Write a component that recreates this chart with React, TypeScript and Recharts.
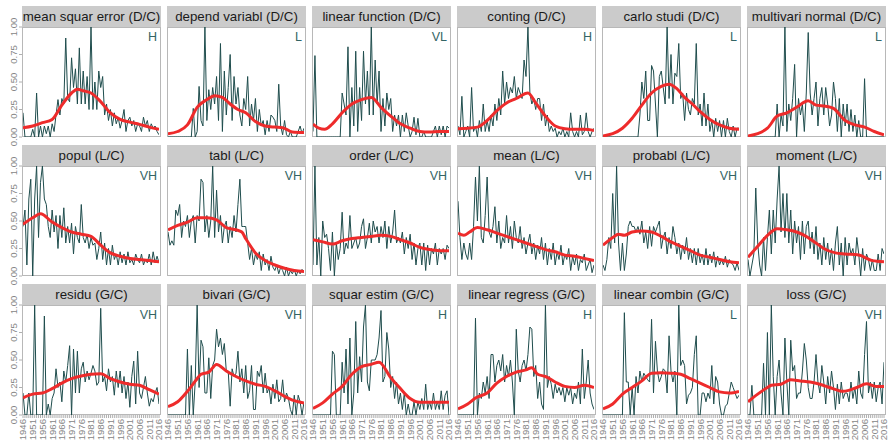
import React from 'react';
import { LineChart, Line, XAxis, YAxis } from 'recharts';

const years = Array.from({ length: 71 }, (_, i) => 1946 + i);
const xTicks = [1946, 1951, 1956, 1961, 1966, 1971, 1976, 1981, 1986, 1991, 1996, 2001, 2006, 2011, 2016];
const yTicks = [0, 0.25, 0.5, 0.75, 1];

const titles = [
  'mean squar error (D/C)', 'depend variabl (D/C)', 'linear function (D/C)', 'conting (D/C)', 'carlo studi (D/C)', 'multivari normal (D/C)',
  'popul (L/C)', 'tabl (L/C)', 'order (L/C)', 'mean (L/C)', 'probabl (L/C)', 'moment (L/C)',
  'residu (G/C)', 'bivari (G/C)', 'squar estim (G/C)', 'linear regress (G/C)', 'linear combin (G/C)', 'loss (G/C)',
];
const tags = ['H', 'L', 'VL', 'H', 'L', 'L', 'VH', 'VH', 'VH', 'VH', 'VH', 'VH', 'VH', 'VH', 'H', 'H', 'L', 'VH'];

// yearly shares, 1946..2016
const meanSquarError = [
  0.22, 0, 0, 0, 0, 0.07, 0, 0.40, 0, 0.10,
  0, 0.10, 0.03, 0.10, 0, 0.12, 0.05, 0.20, 0.34, 0.20,
  0.35, 0.30, 0.90, 0.35, 0.32, 0.72, 0.45, 0.62, 0.30, 0.81,
  0.30, 0.60, 0.30, 0.55, 0.25, 1.00, 0.25, 0.50, 0.25, 0.60,
  0.45, 0.55, 0.20, 0.30, 0.15, 0.25, 0.10, 0.22, 0.12, 0.18,
  0.08, 0.15, 0.25, 0.05, 0.15, 0.18, 0.10, 0.15, 0.05, 0.12,
  0.10, 0.05, 0.18, 0.10, 0.15, 0.05, 0.12, 0.08, 0.10, 0.05,
  0.02,
];
const dependVariabl = [
  0, 0, 0, 0, 0, 0, 0, 0, 0, 0,
  0, 0, 0, 0.26, 0, 0.05, 0.46, 0.15, 0.10, 1.00,
  0.15, 0.43, 0.25, 0.45, 0.30, 0.55, 0.15, 0.85, 0.05, 0.60,
  0.20, 0.45, 0.75, 0.15, 0.55, 0.30, 0.45, 0.20, 0.10, 0.35,
  0.25, 0.55, 0.10, 0.30, 0.15, 0.35, 0.05, 0.25, 0.10, 0.15,
  0.02, 0.15, 0.05, 0.20, 0.18, 0.15, 0.05, 0.48, 0.10, 0.02,
  0.15, 0.02, 0, 0.05, 0, 0, 0, 0.05, 0.10, 0.03,
  0.08,
];
const linearFunction = [
  0.05, 0.74, 0, 0, 0, 0, 0, 0, 0, 0,
  0, 0, 0, 0, 0, 0.40, 0.30, 0.20, 0.82, 0,
  0.45, 0.10, 0.78, 0.05, 0.45, 0.15, 0.78, 0.30, 0.60, 0.20,
  1.00, 0.20, 0.70, 0.30, 0.60, 0.05, 0.35, 0.10, 0.40, 0.25,
  0.35, 0.05, 0.20, 0.10, 0.20, 0, 0.20, 0.05, 0.22, 0.10,
  0, 0.05, 0.18, 0.02, 0.17, 0, 0, 0.05, 0, 0,
  0, 0, 0.05, 0.10, 0, 0.10, 0.02, 0.10, 0, 0.10,
  0.08,
];
const conting = [
  0.10, 0.02, 0.37, 0, 0.05, 0.10, 0, 0.45, 0.05, 0.10,
  0, 0.15, 0.05, 0.30, 0.05, 0.15, 0.05, 0.20, 0.10, 0.30,
  0.15, 0.35, 0.20, 0.60, 0.30, 0.50, 0.35, 0.45, 0.40, 0.55,
  0.35, 0.45, 0.40, 0.35, 0.70, 0.55, 1.00, 0.40, 0.30, 0.35,
  0.25, 0.35, 0.35, 0.15, 0.30, 0.10, 0.20, 0.05, 0.10, 0.05,
  0.08, 0, 0.05, 0.02, 0.08, 0, 0.05, 0, 0.22, 0.05,
  0, 0.05, 0, 0.20, 0.02, 0.05, 0.22, 0.05, 0, 0.05,
  0.08,
];
const carloStudi = [
  0, 0, 0, 0, 0, 0, 0, 0, 0, 0,
  0, 0, 0, 0, 0, 0, 0, 0, 0, 0.20,
  0.50, 0.35, 0.60, 0.15, 0.15, 0.65, 0.60, 0.30, 0, 0.55,
  0.60, 0.45, 0.30, 1.00, 0.35, 0.75, 0.30, 0.58, 0.55, 0.85,
  0.35, 0.40, 0.15, 0.40, 0.25, 0.20, 0.35, 0.30, 0.85, 0.20,
  0.30, 0.10, 0.40, 0.10, 0.30, 0.05, 0.15, 0, 0.17, 0.05,
  0.15, 0, 0.15, 0, 0.17, 0.05, 0, 0.10, 0, 0.08,
  0.08,
];
const multivariNormal = [
  0, 0, 0, 0, 0, 0, 0, 0, 0, 0,
  0, 0, 0, 0, 0, 0.30, 0, 0.20, 0.10, 1.00,
  0.05, 0.30, 0.15, 0.35, 0.66, 0, 0.35, 0.20, 0.30, 0.05,
  0.40, 0.95, 0.40, 0.20, 0.35, 0.50, 0.10, 0.35, 0.45, 0.20,
  0.45, 0.30, 0.10, 0.20, 0.50, 0.35, 0.05, 0.35, 0, 0.30,
  0.10, 0.30, 0.05, 0.25, 0.05, 0.20, 0, 0.15, 0, 0,
  0.53, 0, 0, 0, 0, 0, 0, 0, 0, 0,
  0,
];
const popul = [
  0.45, 0.60, 0.10, 0.70, 0.88, 0, 0.70, 1.00, 0.35, 0.85,
  1.00, 0.70, 0.65, 0.45, 0.35, 0.60, 0.40, 0.55, 0.25, 0.55,
  0.35, 0.62, 0.30, 0.45, 0.30, 0.48, 0.20, 0.45, 0.35, 0.30,
  0.65, 0.35, 0.30, 0.38, 0.25, 0.35, 0.28, 0.30, 0.15, 0.25,
  0.40, 0.15, 0.30, 0.10, 0.25, 0.10, 0.28, 0.15, 0.20, 0.10,
  0.22, 0.12, 0.20, 0.10, 0.22, 0.12, 0.15, 0.10, 0.20, 0.15,
  0.12, 0.20, 0.10, 0.15, 0.12, 0.20, 0.10, 0.22, 0.12, 0.18,
  0.12,
];
const tabl = [
  0.40, 0.28, 0.32, 0.28, 0.60, 0.55, 0.65, 0.35, 0.50, 0.45,
  0.55, 0.35, 0.50, 0.55, 0.30, 0.55, 0.50, 0.88, 0.85, 0.40,
  0.55, 0.35, 0.50, 1.00, 0.35, 0.78, 0.40, 0.55, 0.30, 0.45,
  0.50, 0.30, 0.45, 0.35, 0.55, 0.40, 0.65, 0.88, 0.45, 0.45,
  0.45, 0.30, 0.15, 0.25, 0.10, 0.20, 0.15, 0.22, 0.05, 0.20,
  0.10, 0.15, 0.05, 0.18, 0.08, 0.05, 0.10, 0.02, 0.08, 0.05,
  0, 0.08, 0, 0.05, 0.02, 0.06, 0, 0.05, 0.02, 0.06,
  0.03,
];
const order = [
  0.10, 1.00, 0.10, 0.35, 0, 0.50, 0.35, 0.38, 0.25, 0.05,
  0.40, 0, 0.30, 0.15, 0.25, 0.58, 0.20, 0.30, 0.25, 0.55,
  0.25, 0.30, 0.35, 0.25, 0.30, 0.45, 0.52, 0.25, 0.35, 0.48,
  0.30, 0.50, 0.40, 0.45, 0.30, 0.45, 0.35, 0.50, 0.25, 0.45,
  0.30, 0.40, 0.60, 0.30, 0.35, 0.30, 0.40, 0.20, 0.35, 0.25,
  0.38, 0.15, 0.30, 0.10, 0.25, 0.30, 0.10, 0.30, 0.05, 0.28,
  0.10, 0.25, 0.20, 0.30, 0.10, 0.25, 0.20, 0.25, 0.15, 0.28,
  0.25,
];
const mean = [
  0.68, 0.35, 0.15, 0.30, 0.20, 0.15, 0.30, 0.15, 0.45, 0.90,
  0.50, 1.00, 0.35, 0.30, 0.55, 0.90, 0.40, 0.35, 0.45, 0.63,
  0.30, 0.50, 0.25, 0.35, 0.30, 0.55, 0.30, 0.45, 0.25, 0.50,
  0.35, 0.30, 0.45, 0.25, 0.35, 0.20, 0.30, 0.38, 0.20, 0.30,
  0.15, 0.28, 0.20, 0.35, 0.15, 0.30, 0.10, 0.25, 0.15, 0.30,
  0.10, 0.22, 0.15, 0.28, 0.10, 0.20, 0.15, 0.25, 0.05, 0.18,
  0.10, 0.20, 0.05, 0.15, 0.12, 0.20, 0.05, 0.10, 0.15, 0.03,
  0.10,
];
const probabl = [
  0.10, 0.05, 0.15, 0.35, 0.25, 0.75, 0.30, 1.00, 0.30, 0.05,
  0.30, 0.05, 0.20, 0.45, 0.50, 0.45, 0.45, 0.40, 0.45, 0.38,
  0.50, 0.30, 0.40, 0.25, 0.45, 0.27, 0.45, 0.40, 0.45, 0.50,
  0.25, 0.35, 0.40, 0.20, 0.35, 0.25, 0.45, 0.35, 0.20, 0.30,
  0.15, 0.28, 0.20, 0.35, 0.15, 0.25, 0.12, 0.25, 0.10, 0.25,
  0.12, 0.20, 0.10, 0.25, 0.10, 0.20, 0.12, 0.22, 0.08, 0.18,
  0.10, 0.15, 0.10, 0.18, 0.08, 0.15, 0.12, 0.10, 0.05, 0.12,
  0.05,
];
const moment = [
  0.15, 0, 0.10, 0.20, 0.80, 0.30, 0.10, 0, 0.35, 0.05,
  0.35, 0.60, 0.20, 0.60, 0.30, 0.70, 1.00, 0.40, 0.75, 0.35,
  0.75, 0.30, 0.60, 0.20, 0.50, 0.30, 0.45, 0.15, 0.50, 0.20,
  0.45, 0.50, 0.25, 0.40, 0.20, 0.45, 0.15, 0.30, 0.10, 0.35,
  0.15, 0.30, 0.10, 0.25, 0.05, 0.30, 0.45, 0.10, 0.30, 0,
  0.35, 0.10, 0.30, 0.20, 0.25, 0.10, 0.35, 0.20, 0, 0.25,
  0.05, 0.20, 0.15, 0.05, 0.15, 0.05, 0.05, 0.20, 0.05, 0.25,
  0.20,
];
const residu = [
  0.20, 0, 0, 0.20, 0, 0, 1.00, 0, 0, 0,
  0, 0.90, 0, 0.10, 0, 0.15, 0.20, 0.42, 0.25, 0.30,
  0.12, 0.40, 0.30, 0.45, 0.63, 0, 0.60, 0.20, 0.58, 0.20,
  0.42, 0.48, 0.30, 0.40, 0.32, 0.38, 0.45, 0.40, 0.27, 0.30,
  0.97, 0.30, 0.35, 0.22, 0.42, 0.30, 0.35, 0.18, 0.40, 0.25,
  0.40, 0.20, 0.35, 0.15, 0.30, 0.07, 0.35, 0.49, 0.10, 0.58,
  0.20, 0.15, 0.25, 0.35, 0.20, 0.08, 0.15, 0.12, 0.20, 0.25,
  0.10,
];
const bivari = [
  0, 0, 0, 0, 0, 0, 0, 0, 0, 0,
  0.60, 0, 0.45, 0, 0.30, 1.00, 0.25, 0.68, 0.62, 0.20,
  0.20, 0.52, 0.15, 0.45, 0.50, 0.78, 0.62, 0.70, 0.55, 0.65,
  0.40, 0.40, 0.08, 0.42, 0.35, 0.38, 0.58, 0.30, 0.42, 0.20,
  0.45, 0.15, 0.22, 0.45, 0.05, 0.05, 0.40, 0.35, 0.45, 0.20,
  0.38, 0.20, 0.25, 0.10, 0.28, 0.15, 0.32, 0.12, 0.15, 0.32,
  0.12, 0.20, 0.15, 0.05, 0, 0.18, 0, 0.18, 0.12, 0,
  0.12,
];
const squarEstim = [
  0, 0, 0, 0, 0, 0, 0, 0, 0, 0,
  0.58, 0.55, 0, 0, 0, 0.48, 0.20, 0.60, 0.10, 0.70,
  0, 0.20, 0.85, 0.20, 0.53, 0.30, 0.80, 1.00, 0.30, 0.22,
  0.50, 0.50, 0.50, 0.55, 0.70, 0.95, 0.30, 0.35, 0.75, 0.60,
  0.25, 0.35, 0.15, 0.30, 0.10, 0.20, 0.05, 0.20, 0, 0.10,
  0, 0, 0.12, 0, 0.12, 0.05, 0.15, 0.05, 0.28, 0.05,
  0.12, 0.05, 0.20, 0.05, 0.12, 0.05, 0.22, 0.05, 0.18, 0.22,
  0,
];
const linearRegress = [
  0, 0, 0, 0, 0, 0, 0, 0, 0, 0.88,
  0, 0.20, 0.15, 0.30, 0.20, 0.35, 0.15, 0.55, 0.55, 0.30,
  0.45, 0.50, 0.40, 0.55, 0.30, 0.45, 0.35, 0.50, 0.30, 0,
  0.78, 0.40, 0.30, 0.45, 0.50, 0.40, 0.55, 0.80, 0.78, 0.35,
  0.45, 0.15, 0.30, 0.10, 0.05, 1.00, 0.25, 0.35, 0.28, 0.15,
  0.28, 0.20, 0.25, 0.18, 0.25, 0.12, 0.25, 0.18, 0.25, 0.10,
  0.20, 0.15, 0.30, 0.10, 0.60, 0.15, 0.30, 0.50, 0.20, 0.10,
  0.05,
];
const linearCombin = [
  0, 0, 0, 0, 0, 0, 0, 0, 0, 0,
  0, 0.93, 0.30, 0.30, 0, 0.25, 0, 0.35, 0.20, 0.40,
  0.30, 0.38, 0.35, 0.32, 0.30, 0.87, 0.20, 0.67, 0.40, 0.30,
  0.35, 0.42, 0.40, 0.20, 0.72, 0.40, 0.30, 0.40, 0, 1.00,
  0.45, 0.50, 0.45, 0.10, 0.18, 0.20, 0.25, 0.55, 0.72, 0,
  0, 0.20, 0.20, 0.12, 0.20, 0.15, 0.45, 0.10, 0.35, 0.30,
  0.10, 0, 0, 0.08, 0.10, 0.20, 0.30, 0.25, 0.20, 0.15,
  0.18,
];
const loss = [
  0, 0, 0.27, 0, 0, 0, 0, 0, 0.47, 0,
  0.75, 0, 1.00, 0.35, 0, 0.35, 0.50, 0.20, 0, 0.70,
  0.30, 0, 0.68, 0.40, 0.45, 0.15, 0.20, 0.20, 0.40, 0.65,
  0.50, 0.25, 0.15, 0.15, 0.30, 0.55, 0.30, 0.20, 0.45, 0.30,
  0.10, 0.35, 0.20, 0.40, 0.25, 0.05, 0.28, 0.10, 0.30, 0.15,
  0.20, 0.20, 0.12, 0.30, 0.15, 0.25, 0.10, 0.40, 0.20, 0.15,
  0.55, 0.85, 0.20, 0.30, 0.15, 0.30, 0.12, 0.25, 0.30, 0.10,
  0.48,
];

// smoothed trend, [year, value]
const meanSquarErrorFit = [[1946, 0.083], [1951, 0.10], [1956, 0.13], [1961, 0.16], [1966, 0.29], [1971, 0.40], [1974, 0.435], [1977, 0.42], [1981, 0.40], [1985, 0.34], [1991, 0.22], [1996, 0.16], [2001, 0.135], [2006, 0.115], [2011, 0.09], [2016, 0.07]];
const dependVariablFit = [[1946, 0.03], [1951, 0.05], [1956, 0.11], [1961, 0.27], [1966, 0.34], [1970, 0.375], [1974, 0.36], [1978, 0.30], [1982, 0.25], [1986, 0.22], [1991, 0.14], [1996, 0.10], [2001, 0.09], [2005, 0.085], [2010, 0.045], [2016, 0.04]];
const linearFunctionFit = [[1946, 0.117], [1949, 0.08], [1952, 0.07], [1956, 0.12], [1961, 0.22], [1966, 0.30], [1971, 0.34], [1976, 0.36], [1981, 0.27], [1986, 0.19], [1991, 0.12], [1996, 0.08], [2001, 0.05], [2006, 0.045], [2011, 0.05], [2016, 0.05]];
const contingFit = [[1946, 0.075], [1951, 0.08], [1956, 0.09], [1961, 0.15], [1966, 0.24], [1971, 0.31], [1976, 0.35], [1982, 0.40], [1986, 0.31], [1991, 0.19], [1996, 0.10], [2001, 0.075], [2006, 0.07], [2011, 0.07], [2016, 0.06]];
const carloStudiFit = [[1946, 0.01], [1951, 0.03], [1956, 0.08], [1961, 0.17], [1966, 0.29], [1971, 0.40], [1976, 0.46], [1980, 0.48], [1984, 0.44], [1988, 0.36], [1992, 0.30], [1996, 0.23], [2001, 0.16], [2006, 0.11], [2011, 0.08], [2016, 0.07]];
const multivariNormalFit = [[1946, 0.01], [1951, 0.03], [1956, 0.08], [1961, 0.19], [1966, 0.22], [1971, 0.27], [1977, 0.33], [1981, 0.29], [1986, 0.28], [1990, 0.26], [1996, 0.15], [2001, 0.11], [2006, 0.09], [2011, 0.05], [2016, 0.02]];
const populFit = [[1946, 0.47], [1951, 0.53], [1955, 0.565], [1961, 0.49], [1966, 0.44], [1971, 0.40], [1976, 0.38], [1981, 0.36], [1986, 0.28], [1991, 0.21], [1996, 0.18], [2001, 0.16], [2006, 0.15], [2011, 0.14], [2016, 0.13]];
const tablFit = [[1946, 0.42], [1951, 0.46], [1956, 0.49], [1961, 0.53], [1966, 0.53], [1971, 0.51], [1976, 0.44], [1981, 0.42], [1984, 0.40], [1986, 0.34], [1991, 0.21], [1996, 0.14], [2001, 0.10], [2006, 0.07], [2011, 0.05], [2016, 0.04]];
const orderFit = [[1946, 0.33], [1951, 0.31], [1956, 0.29], [1961, 0.32], [1966, 0.34], [1971, 0.35], [1976, 0.36], [1981, 0.37], [1986, 0.36], [1991, 0.33], [1996, 0.30], [2001, 0.26], [2006, 0.24], [2011, 0.23], [2016, 0.23]];
const meanFit = [[1946, 0.39], [1949, 0.37], [1952, 0.40], [1956, 0.44], [1961, 0.42], [1966, 0.39], [1971, 0.36], [1976, 0.33], [1981, 0.30], [1986, 0.27], [1991, 0.24], [1996, 0.22], [2001, 0.19], [2006, 0.18], [2011, 0.16], [2016, 0.14]];
const probablFit = [[1946, 0.28], [1951, 0.35], [1954, 0.38], [1957, 0.37], [1961, 0.40], [1966, 0.41], [1971, 0.40], [1976, 0.36], [1981, 0.31], [1986, 0.27], [1991, 0.23], [1996, 0.19], [2001, 0.17], [2006, 0.15], [2011, 0.13], [2016, 0.12]];
const momentFit = [[1946, 0.17], [1951, 0.27], [1956, 0.37], [1961, 0.43], [1966, 0.42], [1971, 0.40], [1975, 0.37], [1981, 0.30], [1985, 0.25], [1991, 0.21], [1996, 0.20], [2003, 0.19], [2010, 0.14], [2016, 0.13]];
const residuFit = [[1946, 0.155], [1951, 0.19], [1956, 0.20], [1961, 0.24], [1966, 0.29], [1971, 0.33], [1976, 0.355], [1981, 0.37], [1986, 0.375], [1991, 0.33], [1996, 0.30], [2001, 0.28], [2006, 0.27], [2011, 0.23], [2016, 0.19]];
const bivariFit = [[1946, 0.077], [1951, 0.12], [1956, 0.215], [1961, 0.33], [1963, 0.37], [1967, 0.39], [1971, 0.46], [1976, 0.40], [1981, 0.35], [1986, 0.31], [1991, 0.28], [1996, 0.26], [2001, 0.22], [2006, 0.17], [2011, 0.13], [2016, 0.11]];
const squarEstimFit = [[1946, 0.06], [1951, 0.11], [1956, 0.19], [1961, 0.26], [1966, 0.37], [1971, 0.44], [1976, 0.46], [1980, 0.48], [1986, 0.34], [1991, 0.24], [1996, 0.15], [2001, 0.115], [2006, 0.115], [2011, 0.115], [2016, 0.115]];
const linearRegressFit = [[1946, 0.055], [1951, 0.10], [1955, 0.155], [1961, 0.20], [1966, 0.29], [1971, 0.35], [1976, 0.39], [1981, 0.41], [1984, 0.43], [1987, 0.37], [1991, 0.35], [1996, 0.30], [2001, 0.26], [2006, 0.25], [2011, 0.27], [2016, 0.25]];
const linearCombinFit = [[1946, 0.055], [1951, 0.10], [1956, 0.19], [1961, 0.25], [1966, 0.31], [1971, 0.38], [1976, 0.385], [1981, 0.38], [1986, 0.37], [1991, 0.33], [1996, 0.29], [2001, 0.25], [2006, 0.21], [2011, 0.20], [2016, 0.215]];
const lossFit = [[1946, 0.12], [1951, 0.19], [1956, 0.25], [1958, 0.27], [1963, 0.28], [1968, 0.32], [1973, 0.31], [1978, 0.30], [1983, 0.28], [1988, 0.25], [1995, 0.215], [2002, 0.25], [2007, 0.285], [2012, 0.26], [2016, 0.26]];

const series = [meanSquarError, dependVariabl, linearFunction, conting, carloStudi, multivariNormal, popul, tabl, order, mean, probabl, moment, residu, bivari, squarEstim, linearRegress, linearCombin, loss];
const fits = [meanSquarErrorFit, dependVariablFit, linearFunctionFit, contingFit, carloStudiFit, multivariNormalFit, populFit, tablFit, orderFit, meanFit, probablFit, momentFit, residuFit, bivariFit, squarEstimFit, linearRegressFit, linearCombinFit, lossFit];

const FONT = '"Liberation Sans", Arial, Helvetica, sans-serif';
const PW = 139;
const PH = 110;
const ROW_TOP = [27, 166, 305];
const COL_LEFT = [22, 167, 312, 457, 602, 747];
const STRIP = 21;
const PAD = 10;

const XTick = (props: any) => {
  const { x, y, payload } = props;
  if (!xTicks.includes(payload.value)) return <g />;
  return (
    <text x={x} y={y} dy="0.36em" transform={`rotate(-90, ${x}, ${y})`} textAnchor="end" fontSize={9.6} fill="#858585" fontFamily={FONT}>
      {payload.value}
    </text>
  );
};

const YTick = (props: any) => {
  const { x, y, payload } = props;
  return (
    <text x={x} y={y} transform={`rotate(-90, ${x}, ${y})`} textAnchor="middle" fontSize={9.6} fill="#858585" fontFamily={FONT}>
      {payload.value.toFixed(2)}
    </text>
  );
};

const Panel = ({ idx }: { idx: number }) => {
  const r = Math.floor(idx / 6);
  const c = idx % 6;
  const left = COL_LEFT[c];
  const top = ROW_TOP[r];
  const showY = c === 0;
  const showX = r === 2;
  const yw = showY ? 22 : 0;
  const xh = showX ? 32 : 0;
  const noise = series[idx].map((v, i) => ({ year: years[i], v }));
  const fit = fits[idx].map(([year, v]) => ({ year, v }));
  return (
    <>
      <div
        style={{
          position: 'absolute', left, top: top - STRIP, width: PW, height: STRIP, background: '#cbcbcb',
          display: 'flex', alignItems: 'center', justifyContent: 'center', fontFamily: FONT, fontSize: 13.3,
          color: '#1a1a1a', whiteSpace: 'nowrap', overflow: 'hidden',
        }}
      >
        {titles[idx]}
      </div>
      <div style={{ position: 'absolute', left, top, width: PW, height: PH, border: '1px solid #b8b8b8', boxSizing: 'border-box', background: '#fff' }} />
      <div style={{ position: 'absolute', left: left - yw - PAD, top: top - PAD }}>
        <LineChart width={PW + yw + 2 * PAD} height={PH + xh + 2 * PAD} margin={{ top: PAD, right: PAD, bottom: PAD, left: PAD }}>
          <XAxis
            type="number" dataKey="year" domain={[1946, 2016]} ticks={years} interval={0} allowDataOverflow
            padding={{ left: 1, right: 2 }}
            hide={!showX} height={xh} tick={<XTick />} tickSize={3} tickMargin={1} axisLine={false} tickLine={{ stroke: '#b0b0b0' }}
          />
          <YAxis
            type="number" domain={[0, 1]} ticks={yTicks} interval={0} allowDataOverflow
            hide={!showY} width={yw} tick={<YTick />} tickSize={3} tickMargin={2} axisLine={false} tickLine={{ stroke: '#b0b0b0' }}
          />
          <Line data={noise} dataKey="v" type="linear" stroke="#1f4d4d" strokeWidth={1} dot={false} isAnimationActive={false} />
          <Line data={fit} dataKey="v" type="monotone" stroke="#ee2b2b" strokeWidth={3} dot={false} isAnimationActive={false} />
        </LineChart>
      </div>
      <div style={{ position: 'absolute', left: left + PW - 40, top: top + 4, width: 36, textAlign: 'right', fontFamily: FONT, fontSize: 12.5, lineHeight: '12.5px', color: '#336464' }}>
        {tags[idx]}
      </div>
    </>
  );
};

export default function App() {
  return (
    <div style={{ position: 'absolute', left: 0, top: 0, width: 889, height: 447, background: '#fff', overflow: 'hidden' }}>
      {titles.map((_, i) => (
        <Panel key={i} idx={i} />
      ))}
    </div>
  );
}
